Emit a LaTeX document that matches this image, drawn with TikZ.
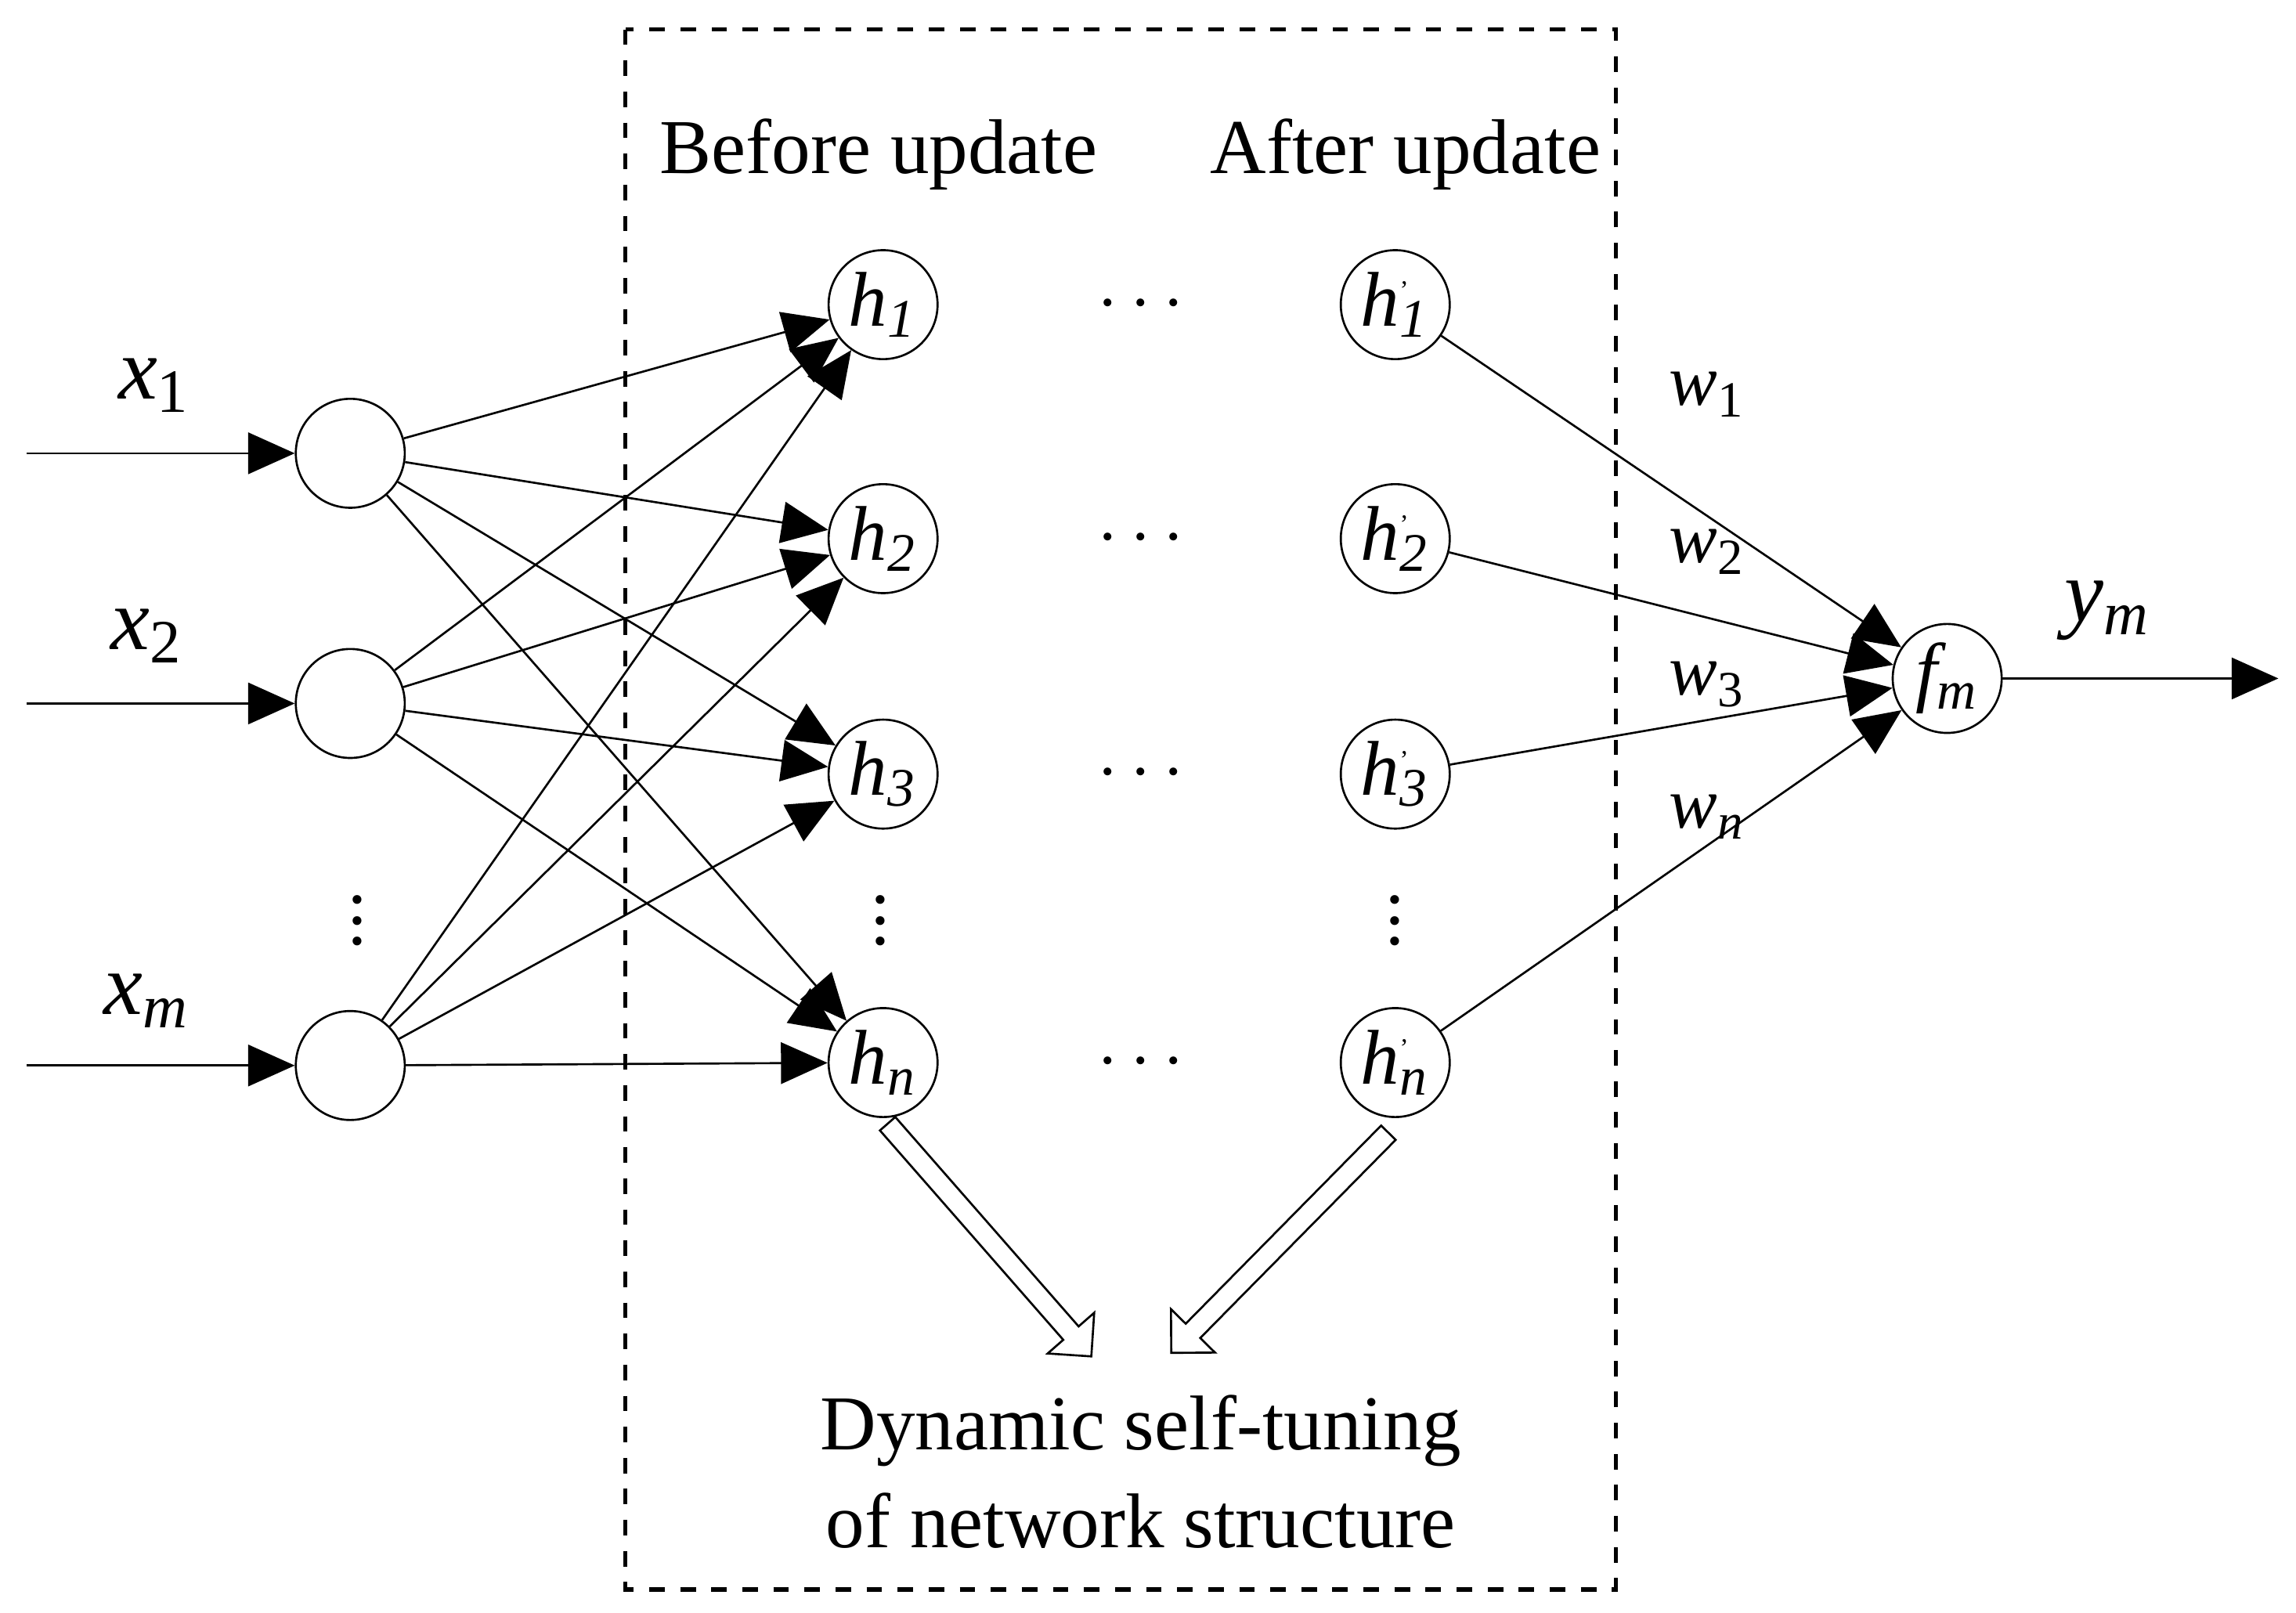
\documentclass[tikz,border=0pt]{standalone}
\usepackage{fontspec}
\setmainfont{Liberation Serif}
\usetikzlibrary{arrows.meta,shapes.arrows}

\begin{document}
\begin{tikzpicture}[x=0.01cm, y=-0.01cm, >={Triangle[length=9pt,width=8pt]},
        unit/.style={circle, draw, minimum size=0.74cm, inner sep=0pt, font=\fontsize{15}{15}\selectfont\itshape},
        lab/.style={font=\fontsize{17}{17}\selectfont\itshape},
        wlab/.style={font=\fontsize{14}{14}\selectfont\itshape},
        txt/.style={font=\fontsize{15}{19}\selectfont, align=center},
        dots/.style={inner sep=0pt, font=\Large},
        hollow/.style={single arrow, draw, minimum width=0.42cm, single arrow head extend=0.1cm, inner sep=1.2pt, minimum height=2.1cm, single arrow head indent=0pt}]
    \useasboundingbox (0,0) rectangle (1560,1096);

    % Box
    \draw[dashed, thick] (425,20) rectangle (1098,1080);
    \node[txt] (before) at (597,105) {Before update};
    \node[txt] (after) at (955,105) {After update};

    % Inputs
    \node[unit] (i1) at (238,308) {};
    \node[unit] (i2) at (238,478) {};
    \node[unit] (i3) at (238,724) {};
    \coordinate (s1) at (18,308);
    \coordinate (s2) at (18,478);
    \coordinate (s3) at (18,724);
    \node[lab] (x1) at (105,262) {x\textsubscript{\upshape 1}};
    \node[lab] (x2) at (100,432) {x\textsubscript{\upshape 2}};
    \node[lab] (x3) at (100,680) {x\textsubscript{m}};
    \node[dots] (vd0) at (243,615) {$\vdots$};

    % Hidden
    \foreach \n/\y/\s in {1/207/1, 2/366/2, 3/526/3, 4/722/n} {
        \node[unit] (h\n) at (600,\y) {h\textsubscript{\s}};
        \node[unit] (g\n) at (948,\y) {h\rlap{\textsuperscript{\upshape\tiny '}}\textsubscript{\s}};
        \node[dots] (d\n) at (775,\y) {$\cdots$};
    }
    \node[dots] (vd1) at (598,615) {$\vdots$};
    \node[dots] (vd2) at (948,615) {$\vdots$};

    % Output
    \node[unit] (f) at (1323,461) {f\textsubscript{m}};
    \coordinate (out) at (1548,461);
    \node[lab] (y) at (1432,415) {y\textsubscript{m}};

    \foreach \i in {1,2,3} {
        \draw[->] (s\i) -- (i\i);
        \foreach \j in {1,2,3,4}
            \draw[->] (i\i) -- (h\j);
    }
    \foreach \j in {1,2,3,4}
        \draw[->] (g\j) -- (f);
    \draw[->] (f) -- (out);

    \node[wlab] (w1) at (1160,268) {w\textsubscript{\upshape 1}};
    \node[wlab] (w2) at (1160,375) {w\textsubscript{\upshape 2}};
    \node[wlab] (w3) at (1160,465) {w\textsubscript{\upshape 3}};
    \node[wlab] (w4) at (1160,555) {w\textsubscript{n}};

    % Tuning
    \node[hollow, rotate=-48.8] (a1) at (670,840) {};
    \node[hollow, rotate=-134.6] (a2) at (872,842) {};
    \node[txt] (tune) at (775,1000) {Dynamic self-tuning\\of network structure};
\end{tikzpicture}
\end{document}
